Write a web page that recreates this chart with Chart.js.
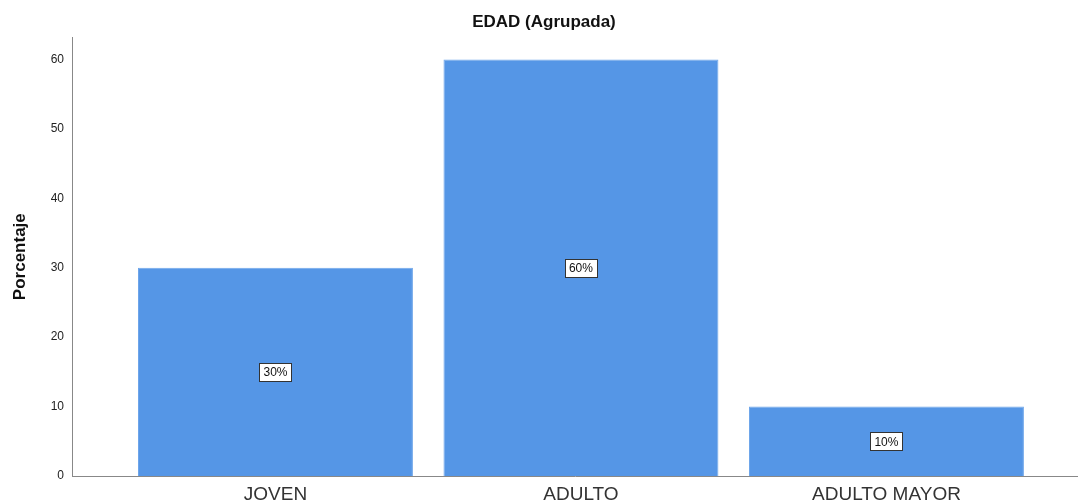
<!DOCTYPE html>
<html><head><meta charset="utf-8">
<script src="https://cdn.jsdelivr.net/npm/chart.js@4/dist/chart.umd.min.js"></script>
<style>html,body{margin:0;padding:0;background:#fff}#w{width:1078px;height:503px}</style>
</head><body><div id="w"><canvas id="c"></canvas></div>
<script>
const categories = ["JOVEN", "ADULTO", "ADULTO MAYOR"];
const values = [30, 60, 10];
const pctLabels = ["30%", "60%", "10%"];
const yTicks = [0, 10, 20, 30, 40, 50, 60];

const FONT = "'Liberation Sans', Arial, sans-serif";

const labelPlugin = {
  id: 'boxLabels',
  afterDatasetsDraw(chart) {
    const ctx = chart.ctx;
    const meta = chart.getDatasetMeta(0);
    ctx.save();
    ctx.font = "12px " + FONT;
    ctx.textAlign = 'center';
    ctx.textBaseline = 'middle';
    meta.data.forEach((bar, i) => {
      const p = bar.getProps(['x', 'y', 'base'], true);
      const cy = (p.y + p.base) / 2;
      const t = pctLabels[i];
      const w = Math.round(ctx.measureText(t).width + 8);
      const h = 18;
      const x0 = Math.round(p.x - w / 2) + 0.5, y0 = Math.round(cy - h / 2) + 0.5;
      ctx.fillStyle = '#fff';
      ctx.fillRect(x0, y0, w, h);
      ctx.strokeStyle = '#333';
      ctx.lineWidth = 1;
      ctx.strokeRect(x0, y0, w, h);
      ctx.fillStyle = '#111';
      ctx.fillText(t, p.x, cy + 1);
    });
    ctx.restore();
  }
};

new Chart(document.getElementById('c'), {
  type: 'bar',
  data: {
    datasets: [{
      data: values.map((v, i) => ({ x: i, y: v })),
      backgroundColor: '#5596E6',
      borderColor: '#6FA6EA',
      borderWidth: 1,
      barPercentage: 0.9,
      categoryPercentage: 1.0
    }]
  },
  options: {
    responsive: true,
    maintainAspectRatio: false,
    animation: false,
    layout: { padding: { left: 10, right: 0, top: 0, bottom: 0 } },
    plugins: {
      legend: { display: false },
      tooltip: { enabled: false },
      title: {
        display: true,
        text: 'EDAD (Agrupada)',
        color: '#111',
        font: { family: FONT, size: 17, weight: 'bold' },
        padding: { top: 12, bottom: 5 }
      }
    },
    scales: {
      x: {
        type: 'linear',
        offset: false,
        min: -0.666,
        max: 2.627,
        afterBuildTicks(scale) { scale.ticks = categories.map((c, i) => ({ value: i })); },
        afterFit(scale) { scale.height = 27; },
        grid: { display: false, drawTicks: false },
        border: { display: true, color: '#888', width: 1 },
        ticks: {
          callback: (v) => categories[v] !== undefined ? categories[v] : '',
          color: '#333',
          font: { family: FONT, size: 19 },
          padding: 7,
          maxRotation: 0,
          autoSkip: false
        }
      },
      y: {
        min: 0,
        max: 63.17,
        afterBuildTicks(scale) { scale.ticks = yTicks.map(v => ({ value: v })); },
        afterFit(scale) { scale.width = 62; },
        grid: { display: false, drawTicks: false },
        border: { display: true, color: '#888', width: 1 },
        title: {
          display: true,
          text: 'Porcentaje',
          color: '#111',
          font: { family: FONT, size: 17, weight: 'bold' },
          padding: { top: 0, bottom: 0 }
        },
        ticks: {
          color: '#222',
          font: { family: FONT, size: 12 },
          padding: 8
        }
      }
    }
  },
  plugins: [labelPlugin]
});
</script>
</body></html>
